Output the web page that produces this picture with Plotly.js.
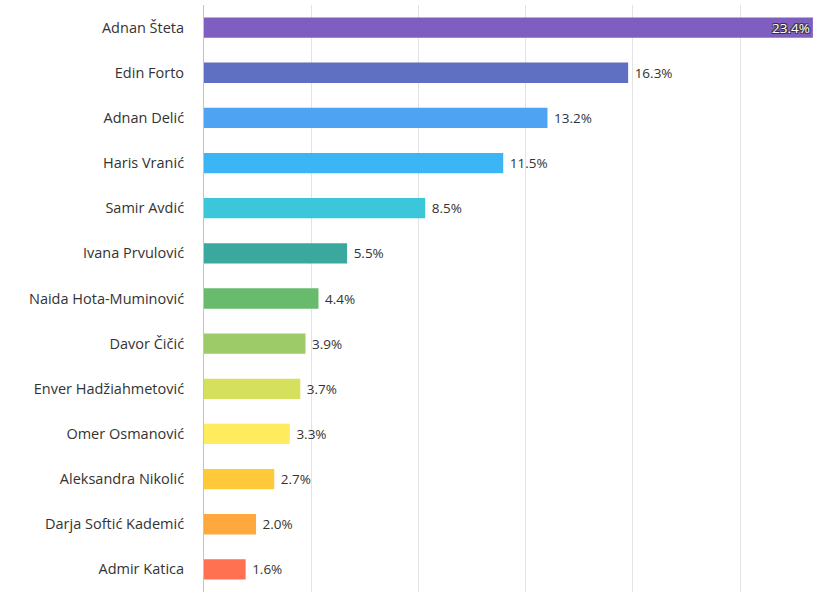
<!DOCTYPE html>
<html>
<head>
<meta charset="utf-8">
<script src="https://cdn.plot.ly/plotly-3.0.1.min.js"></script>
<style>html,body{margin:0;padding:0;background:#fff;}#chart{width:822px;height:600px;}</style>
</head>
<body>
<div id="chart"></div>
<script>
const candidates = ["Adnan Šteta","Edin Forto","Adnan Delić","Haris Vranić","Samir Avdić","Ivana Prvulović","Naida Hota-Muminović","Davor Čičić","Enver Hadžiahmetović","Omer Osmanović","Aleksandra Nikolić","Darja Softić Kademić","Admir Katica"];
const shares = [23.4,16.3,13.2,11.5,8.5,5.5,4.4,3.9,3.7,3.3,2.7,2.0,1.6];
const barColors = ["#7e5fc0","#5f6fc1","#4ea3f2","#3cb5f4","#3cc6d9","#3aa89c","#68ba6c","#9ccb68","#d5e05c","#ffec5e","#ffc93a","#ffa83e","#ff7150"];
const labelPositions = shares.map((v,i)=> i===0 ? "inside" : "outside");

const trace = {
  type: "bar",
  orientation: "h",
  y: candidates,
  x: shares,
  marker: {color: barColors, line: {width: 0}},
  text: shares.map((v,i) => i===0 ? v.toFixed(1) + "%" : "\u00a0" + v.toFixed(1) + "%"),
  textposition: labelPositions,
  insidetextanchor: "end",
  constraintext: "none",
  insidetextfont: {color: "#ffffff", size: 13.5, family: "Open Sans, sans-serif",
    shadow: "1px 1px 0 #333, -1px -1px 0 #333, 1px -1px 0 #333, -1px 1px 0 #333"},
  outsidetextfont: {color: "#333333", size: 13.5, family: "Open Sans, sans-serif"},
  textangle: 0,
  cliponaxis: false,
  hoverinfo: "none"
};

const layout = {
  width: 822, height: 600,
  margin: {l: 204, r: 0, t: 5, b: 8},
  paper_bgcolor: "#ffffff",
  plot_bgcolor: "#ffffff",
  bargap: 0.55,
  showlegend: false,
  xaxis: {
    range: [0, 23.75],
    dtick: 4.12,
    tick0: 0,
    showticklabels: false,
    showgrid: true,
    gridcolor: "#e3e3e3",
    gridwidth: 1,
    zeroline: false,
    showline: false,
    fixedrange: true
  },
  yaxis: {
    autorange: "reversed",
    showline: true,
    linecolor: "#b8c4dc",
    linewidth: 1,
    showgrid: false,
    ticks: "",
    ticklabelstandoff: 16,
    tickfont: {family: "Open Sans, sans-serif", size: 14.5, color: "#333333"},
    fixedrange: true
  }
};

Plotly.newPlot("chart", [trace], layout, {displayModeBar: false, staticPlot: true});
</script>
</body>
</html>
